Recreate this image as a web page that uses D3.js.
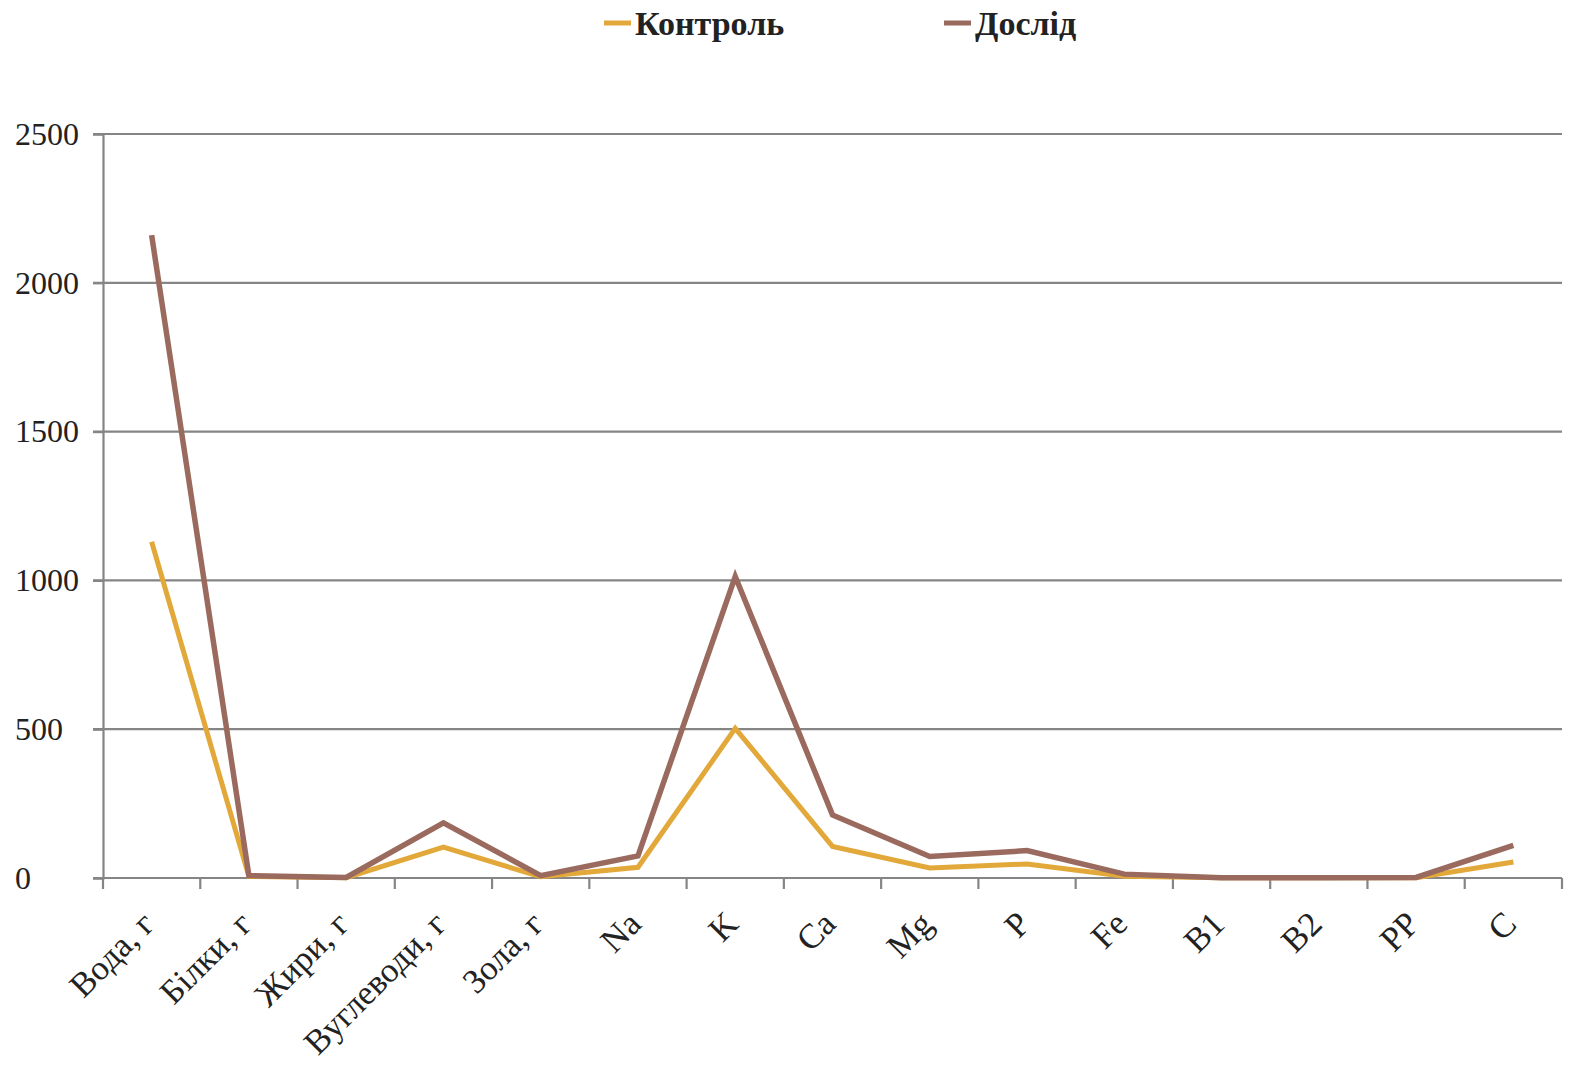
<!DOCTYPE html>
<html>
<head>
<meta charset="utf-8">
<script src="https://cdn.jsdelivr.net/npm/d3@7"></script>
<style>
  html, body { margin: 0; padding: 0; background: #ffffff; }
  svg { display: block; }
  text { font-family: "Liberation Serif", "Times New Roman", serif; fill: #222; }
</style>
</head>
<body>
<svg id="chart" width="1570" height="1070"></svg>
<script>
// Nutrient content, control vs. experiment
const categories = ["Вода, г", "Білки, г", "Жири, г", "Вуглеводи, г", "Зола, г",
  "Na", "K", "Ca", "Mg", "P", "Fe", "B1", "B2", "PP", "C"];
const seriesNames = ["Контроль", "Дослід"];
const controlValues = [1130, 5, 1, 104, 4, 36, 503, 106, 34, 47, 6, 0.5, 0.5, 1, 54];
const experimentValues = [2160, 8, 2, 185, 8, 74, 1013, 212, 72, 92, 13, 1, 1, 2, 110];
const yTicks = [0, 500, 1000, 1500, 2000, 2500];
const seriesColors = ["#E2A83A", "#9A6A5E"];

const svg = d3.select("#chart");
const margin = { left: 103, right: 8, top: 134, bottom: 192 };
const W = 1570, H = 1070;
const x0 = margin.left, x1 = W - margin.right;
const y0 = H - margin.bottom, y1 = margin.top;

const x = d3.scaleBand().domain(categories).range([x0, x1]).paddingInner(0).paddingOuter(0);
const y = d3.scaleLinear().domain([0, 2500]).range([y0, y1]);

// horizontal gridlines
svg.append("g")
  .selectAll("line")
  .data(yTicks)
  .join("line")
  .attr("x1", x0 - 10).attr("x2", x1)
  .attr("y1", d => y(d)).attr("y2", d => y(d))
  .attr("stroke", "#858585").attr("stroke-width", 2.2);

// y axis; labels are left-aligned in a column at the page edge
const yAxis = svg.append("g")
  .attr("transform", `translate(${x0},0)`)
  .call(d3.axisLeft(y).tickValues(yTicks).tickSize(10).tickFormat(d3.format("d")));
yAxis.select(".domain").attr("stroke", "#858585").attr("stroke-width", 2.2);
yAxis.selectAll(".tick line").attr("stroke", "#858585").attr("stroke-width", 2.2);
yAxis.selectAll(".tick text")
  .attr("x", 15 - x0)
  .attr("text-anchor", "start")
  .attr("font-family", "Liberation Sans, Arial, sans-serif")
  .attr("font-size", 32).attr("fill", "#222");

// x axis with ticks between categories
const boundaries = d3.range(categories.length + 1).map(i => x0 + i * x.step());
const xg = svg.append("g");
xg.append("line")
  .attr("x1", x0).attr("x2", x1).attr("y1", y0).attr("y2", y0)
  .attr("stroke", "#858585").attr("stroke-width", 2.2);
xg.selectAll("line.tk")
  .data(boundaries)
  .join("line").attr("class", "tk")
  .attr("x1", d => d).attr("x2", d => d)
  .attr("y1", y0).attr("y2", y0 + 11)
  .attr("stroke", "#858585").attr("stroke-width", 2.2);
xg.selectAll("text")
  .data(categories)
  .join("text")
  .attr("text-anchor", "end")
  .attr("font-size", 34.5)
  .attr("transform", d => {
    const cx = x(d) + x.bandwidth() / 2;
    return `translate(${cx + 5},${y0 + 48}) rotate(-45)`;
  })
  .text(d => d);

// series lines
const line = d3.line()
  .x((d, i) => x(categories[i]) + x.bandwidth() / 2)
  .y(d => y(d));

[controlValues, experimentValues].forEach((vals, si) => {
  svg.append("path")
    .datum(vals)
    .attr("fill", "none")
    .attr("stroke", seriesColors[si])
    .attr("stroke-width", si === 0 ? 5 : 5.5)
    .attr("stroke-linejoin", "miter")
    .attr("d", line);
});

// legend
const legendX = [604, 944];
const lg = svg.append("g");
seriesNames.forEach((name, i) => {
  lg.append("line")
    .attr("x1", legendX[i]).attr("x2", legendX[i] + 27)
    .attr("y1", 23).attr("y2", 23)
    .attr("stroke", seriesColors[i]).attr("stroke-width", 5);
  lg.append("text")
    .attr("x", legendX[i] + 31).attr("y", 35)
    .attr("font-size", 34).attr("font-weight", "bold")
    .text(name);
});
</script>
</body>
</html>
